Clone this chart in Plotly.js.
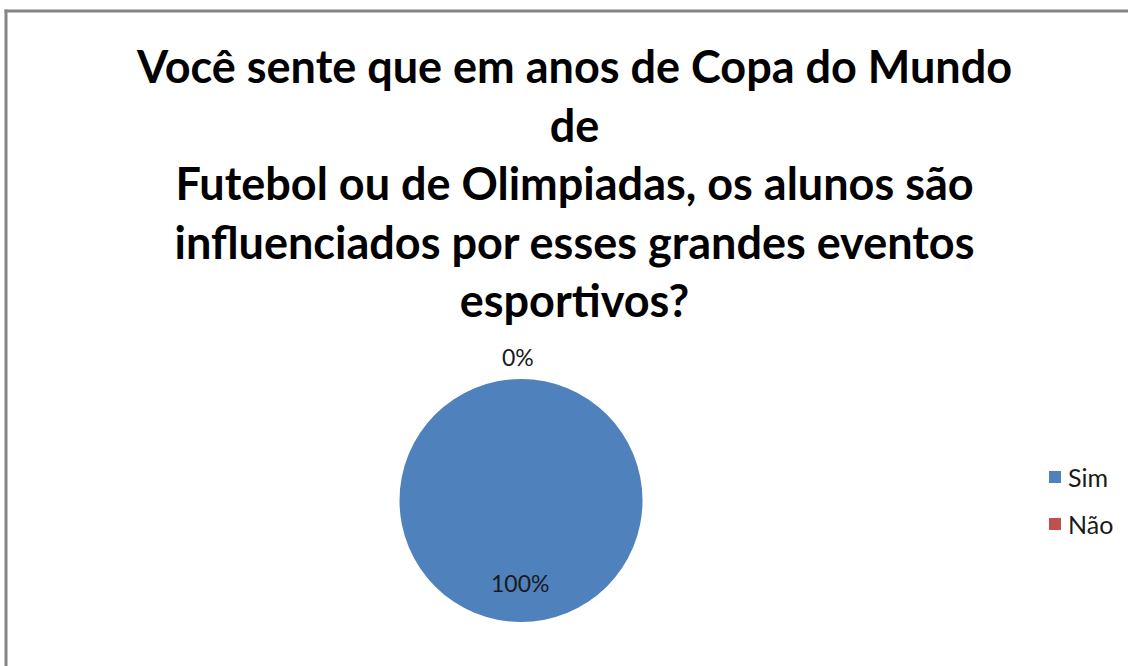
<!DOCTYPE html>
<html>
<head>
<meta charset="utf-8">
<script src="https://cdn.plot.ly/plotly-3.0.1.min.js"></script>
<style>html,body{margin:0;padding:0;background:#fff;}#chart{width:1128px;height:666px;}</style>
</head>
<body>
<div id="chart"></div>
<script>
const titleLines = ['Você sente que em anos de Copa do Mundo', 'de', 'Futebol ou de Olimpiadas, os alunos são', 'influenciados por esses grandes eventos', 'esportivos?'];
const labels = ['Sim', 'Não'];
const values = [100, 0];
const colors = ['#4F81BD', '#C0504D'];

const W = 1128, H = 666;
const px = x => x / W;
const py = y => 1 - y / H;

const total = values.reduce((a, b) => a + b, 0);
const pctText = values.map(v => Math.round(v / total * 100) + '%');

// positions of the percent labels (style, not data)
const labelPos = [[520, 583], [518, 357]];
const legendY = [477, 524];

const annotations = [];
const shapes = [];

annotations.push({
  xref: 'paper', yref: 'paper', x: px(574), y: py(37),
  text: titleLines.join('<br>'), showarrow: false, xanchor: 'center', yanchor: 'top',
  align: 'center',
  font: {family: 'Lato, sans-serif', size: 45, color: '#000000', weight: 'bold'}
});

labels.forEach((lab, i) => {
  annotations.push({
    xref: 'paper', yref: 'paper', x: px(labelPos[i][0]), y: py(labelPos[i][1]),
    text: pctText[i], showarrow: false, xanchor: 'center', yanchor: 'middle',
    font: {family: 'Lato, sans-serif', size: 23, color: '#1a1a1a'}
  });
  shapes.push({
    type: 'rect', xref: 'paper', yref: 'paper',
    x0: px(1049), x1: px(1061), y0: py(legendY[i] + 6), y1: py(legendY[i] - 6),
    fillcolor: colors[i], line: {width: 0}
  });
  annotations.push({
    xref: 'paper', yref: 'paper', x: px(1066), y: py(legendY[i]),
    text: lab, showarrow: false, xanchor: 'left', yanchor: 'middle',
    font: {family: 'Lato, sans-serif', size: 25, color: '#1a1a1a'}
  });
});

// chart border (only top and left edges are inside the picture)
shapes.push({
  type: 'line', xref: 'paper', yref: 'paper',
  x0: px(4.5), x1: px(1140), y0: py(11), y1: py(11),
  line: {color: '#868686', width: 3}
});
shapes.push({
  type: 'line', xref: 'paper', yref: 'paper',
  x0: px(6), x1: px(6), y0: py(9.5), y1: py(680),
  line: {color: '#868686', width: 3}
});

const cx = 521, cy = 500.5, r = 121.5;
const trace = {
  type: 'pie',
  labels: labels,
  values: values,
  marker: {colors: colors, line: {width: 0}},
  sort: false,
  direction: 'clockwise',
  rotation: 0,
  textinfo: 'none',
  showlegend: false,
  domain: {x: [px(cx - r), px(cx + r)], y: [py(cy + r), py(cy - r)]}
};

const layout = {
  width: W, height: H,
  margin: {l: 0, r: 0, t: 0, b: 0},
  paper_bgcolor: '#ffffff',
  showlegend: false,
  annotations: annotations,
  shapes: shapes
};

Plotly.newPlot('chart', [trace], layout, {displayModeBar: false, staticPlot: true});
</script>
</body>
</html>
